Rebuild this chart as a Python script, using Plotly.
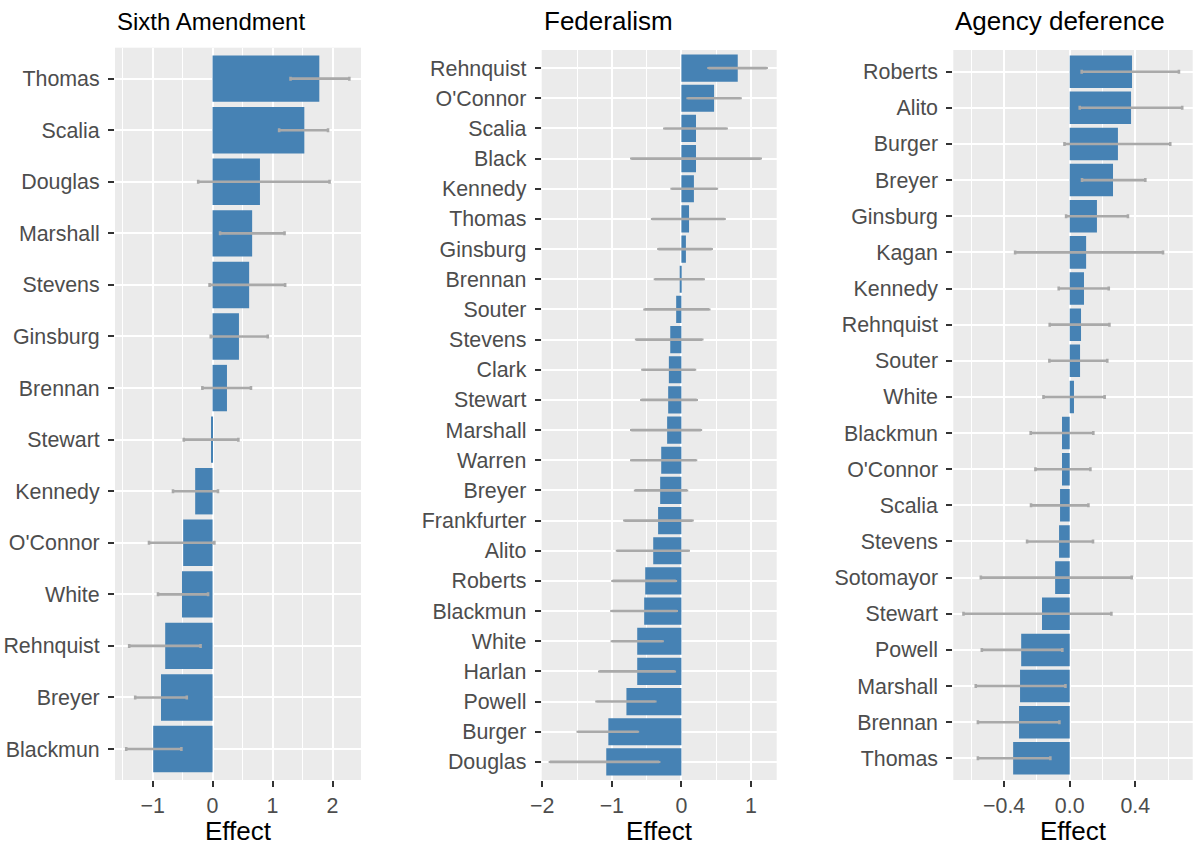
import plotly.graph_objects as go

W, H = 1196, 848

# ---- data ----
six_names = ["Thomas", "Scalia", "Douglas", "Marshall", "Stevens", "Ginsburg", "Brennan",
             "Stewart", "Kennedy", "O'Connor", "White", "Rehnquist", "Breyer", "Blackmun"]
six_effect = [1.78, 1.53, 0.79, 0.66, 0.61, 0.44, 0.24, -0.02, -0.29, -0.49, -0.51, -0.79, -0.86, -0.99]
six_lo = [1.30, 1.11, -0.24, 0.125, -0.05, -0.03, -0.17, -0.48, -0.66, -1.06, -0.91, -1.39, -1.29, -1.44]
six_hi = [2.28, 1.925, 1.95, 1.20, 1.21, 0.92, 0.64, 0.43, 0.09, 0.03, -0.075, -0.20, -0.43, -0.52]

fed_names = ["Rehnquist", "O'Connor", "Scalia", "Black", "Kennedy", "Thomas", "Ginsburg", "Brennan",
             "Souter", "Stevens", "Clark", "Stewart", "Marshall", "Warren", "Breyer", "Frankfurter",
             "Alito", "Roberts", "Blackmun", "White", "Harlan", "Powell", "Burger", "Douglas"]
fed_effect = [0.81, 0.47, 0.21, 0.21, 0.18, 0.11, 0.065, -0.02, -0.075, -0.16, -0.18, -0.19, -0.205,
              -0.29, -0.305, -0.335, -0.405, -0.52, -0.535, -0.635, -0.635, -0.79, -1.05, -1.08]
fed_lo = [0.39, 0.09, -0.245, -0.72, -0.14, -0.42, -0.33, -0.38, -0.53, -0.65, -0.56, -0.575, -0.72,
          -0.72, -0.665, -0.82, -0.925, -0.99, -1.005, -1.0, -1.18, -1.22, -1.49, -1.89]
fed_hi = [1.225, 0.85, 0.65, 1.14, 0.51, 0.62, 0.435, 0.32, 0.40, 0.30, 0.195, 0.22, 0.28, 0.21,
          0.08, 0.16, 0.105, -0.08, -0.067, -0.27, -0.095, -0.375, -0.625, -0.32]

agy_names = ["Roberts", "Alito", "Burger", "Breyer", "Ginsburg", "Kagan", "Kennedy", "Rehnquist",
             "Souter", "White", "Blackmun", "O'Connor", "Scalia", "Stevens", "Sotomayor", "Stewart",
             "Powell", "Marshall", "Brennan", "Thomas"]
agy_effect = [0.38, 0.374, 0.294, 0.264, 0.166, 0.10, 0.087, 0.069, 0.063, 0.026, -0.047, -0.047,
              -0.059, -0.065, -0.089, -0.169, -0.296, -0.303, -0.309, -0.345]
agy_lo = [0.073, 0.061, -0.032, 0.075, -0.022, -0.333, -0.067, -0.122, -0.124, -0.160, -0.238,
          -0.209, -0.236, -0.260, -0.542, -0.648, -0.536, -0.573, -0.560, -0.560]
agy_hi = [0.666, 0.686, 0.613, 0.461, 0.355, 0.569, 0.238, 0.242, 0.229, 0.213, 0.144, 0.126,
          0.114, 0.142, 0.378, 0.254, -0.045, -0.026, -0.063, -0.118]

titles = ["Sixth Amendment", "Federalism", "Agency deference"]
x_label = "Effect"

panels = [
    dict(names=six_names, eff=six_effect, lo=six_lo, hi=six_hi,
         px=(115, 361), top=47.7, xr=[-1.627, 2.475], dtick=1, minor=0.5,
         tickformat="", cap=2, tsize=24),
    dict(names=fed_names, eff=fed_effect, lo=fed_lo, hi=fed_hi,
         px=(541.7, 776.7), top=50, xr=[-2.008, 1.37], dtick=1, minor=0.5,
         tickformat="", cap=1, tsize=26),
    dict(names=agy_names, eff=agy_effect, lo=agy_lo, hi=agy_hi,
         px=(953.3, 1192.7), top=50, xr=[-0.710, 0.750], dtick=0.4, minor=0.2,
         tickformat=".1f", cap=2, tsize=26),
]
bottom_px = 780

FONT = "Liberation Sans, Arial, Helvetica, sans-serif"
TICKFONT = dict(family=FONT, size=21.4, color="#4D4D4D")
fig = go.Figure()
annotations = []
layout = {}
for i, p in enumerate(panels, start=1):
    xa = "x" if i == 1 else f"x{i}"
    ya = "y" if i == 1 else f"y{i}"
    err_plus = [h - e for h, e in zip(p["hi"], p["eff"])]
    err_minus = [e - l for e, l in zip(p["eff"], p["lo"])]
    fig.add_trace(go.Bar(
        x=p["eff"], y=p["names"], orientation="h", xaxis=xa, yaxis=ya,
        marker=dict(color="#4682B4", line=dict(width=0)),
        error_x=dict(type="data", symmetric=False, array=err_plus, arrayminus=err_minus,
                     color="#A9A9A9", thickness=2.6, width=p["cap"]),
        showlegend=False, hoverinfo="skip",
    ))
    n = len(p["names"])
    x0, x1 = p["px"][0] / W, p["px"][1] / W
    y0, y1 = 1 - bottom_px / H, 1 - p["top"] / H
    layout["xaxis" if i == 1 else f"xaxis{i}"] = dict(
        domain=[x0, x1], anchor=ya, range=p["xr"], tick0=0, dtick=p["dtick"],
        tickformat=p["tickformat"], showgrid=True, gridcolor="white", gridwidth=2,
        minor=dict(dtick=p["minor"], tick0=0, showgrid=True, gridcolor="white", gridwidth=1),
        zeroline=False, showline=False, ticks="outside", ticklen=6, tickwidth=2,
        tickcolor="#333333", tickfont=TICKFONT, automargin=False, fixedrange=True,
    )
    layout["yaxis" if i == 1 else f"yaxis{i}"] = dict(
        domain=[y0, y1], anchor=xa, type="category", categoryorder="array",
        categoryarray=p["names"], range=[n - 1 + 0.6, -0.6],
        showgrid=True, gridcolor="white", gridwidth=2, zeroline=False, showline=False,
        ticks="outside", ticklen=6, tickwidth=2, tickcolor="#333333",
        ticklabelstandoff=4, tickfont=TICKFONT, automargin=False, fixedrange=True,
    )
    annotations.append(dict(
        text=titles[i - 1], x=x0, y=1 - 21.5 / H, xref="paper", yref="paper",
        xanchor="left", yanchor="middle", showarrow=False,
        font=dict(family=FONT, size=p["tsize"], color="black"),
    ))
    annotations.append(dict(
        text=x_label, x=(x0 + x1) / 2, y=1 - 830.5 / H, xref="paper", yref="paper",
        xanchor="center", yanchor="middle", showarrow=False,
        font=dict(family=FONT, size=26, color="black"),
    ))

fig.update_layout(
    width=W, height=H, margin=dict(l=0, r=0, t=0, b=0, autoexpand=False),
    paper_bgcolor="white", plot_bgcolor="#EBEBEB", bargap=0.1,
    annotations=annotations, **layout,
)
fig.write_html("out.html")
